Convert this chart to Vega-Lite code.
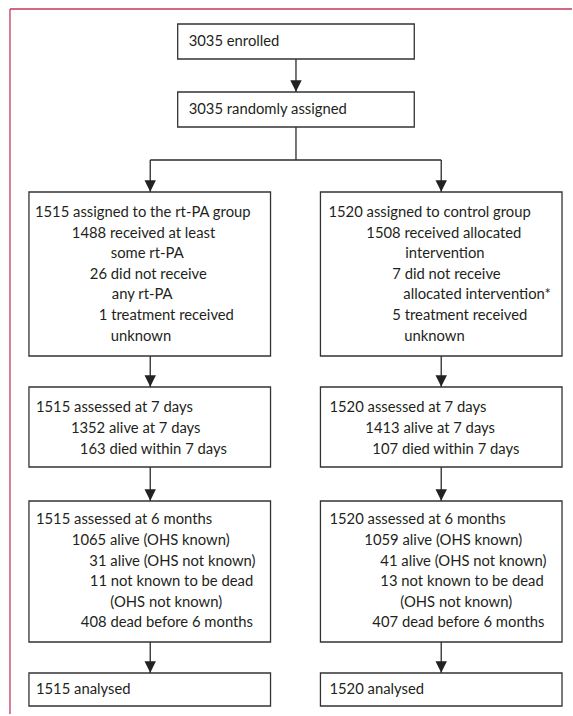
{
  "$schema": "https://vega.github.io/schema/vega-lite/v6.json",
  "width": 573,
  "height": 716,
  "autosize": {"type": "fit", "contains": "padding"},
  "padding": 0,
  "background": "white",
  "view": {"stroke": null},
  "datasets": {
    "frame": [
      {"x": 10, "y": 9, "x2": 573, "y2": 9},
      {"x": 10, "y": 9, "x2": 10, "y2": 714}
    ],
    "boxes": [
      {"id": "enrolled", "x": 178, "x2": 415, "y": 24, "y2": 59},
      {"id": "randomised", "x": 178, "x2": 415, "y": 92, "y2": 127},
      {"id": "alloc_rtpa", "x": 29, "x2": 271, "y": 192, "y2": 356},
      {"id": "alloc_ctrl", "x": 321, "x2": 563, "y": 192, "y2": 356},
      {"id": "d7_rtpa", "x": 29, "x2": 271, "y": 387, "y2": 467},
      {"id": "d7_ctrl", "x": 321, "x2": 563, "y": 387, "y2": 467},
      {"id": "m6_rtpa", "x": 29, "x2": 271, "y": 501, "y2": 642},
      {"id": "m6_ctrl", "x": 321, "x2": 563, "y": 501, "y2": 642},
      {"id": "an_rtpa", "x": 29, "x2": 271, "y": 673, "y2": 706},
      {"id": "an_ctrl", "x": 321, "x2": 563, "y": 673, "y2": 706}
    ],
    "links": [
      {"x": 296.5, "y": 59, "x2": 296.5, "y2": 92},
      {"x": 296.5, "y": 127, "x2": 296.5, "y2": 160},
      {"x": 150.5, "y": 160, "x2": 442, "y2": 160},
      {"x": 150.5, "y": 160, "x2": 150.5, "y2": 192},
      {"x": 442, "y": 160, "x2": 442, "y2": 192},
      {"x": 150.5, "y": 356, "x2": 150.5, "y2": 387},
      {"x": 442, "y": 356, "x2": 442, "y2": 387},
      {"x": 150.5, "y": 467, "x2": 150.5, "y2": 501},
      {"x": 442, "y": 467, "x2": 442, "y2": 501},
      {"x": 150.5, "y": 642, "x2": 150.5, "y2": 673},
      {"x": 442, "y": 642, "x2": 442, "y2": 673}
    ],
    "heads": [
      {"x": 296.5, "y": 92},
      {"x": 150.5, "y": 192},
      {"x": 442, "y": 192},
      {"x": 150.5, "y": 387},
      {"x": 442, "y": 387},
      {"x": 150.5, "y": 501},
      {"x": 442, "y": 501},
      {"x": 150.5, "y": 673},
      {"x": 442, "y": 673}
    ],
    "labels": [
      {"x": 189, "y": 42, "text": "3035 enrolled"},
      {"x": 189, "y": 110, "text": "3035 randomly assigned"},
      {"x": 35, "y": 213, "text": "1515 assigned to the rt-PA group"},
      {"x": 72, "y": 233.5, "text": "1488 received at least"},
      {"x": 111, "y": 254, "text": "some rt-PA"},
      {"x": 90, "y": 274.5, "text": "26 did not receive"},
      {"x": 112, "y": 295, "text": "any rt-PA"},
      {"x": 99, "y": 316, "text": "1 treatment received"},
      {"x": 111, "y": 337, "text": "unknown"},
      {"x": 329, "y": 213, "text": "1520 assigned to control group"},
      {"x": 367, "y": 233.5, "text": "1508 received allocated"},
      {"x": 406, "y": 254, "text": "intervention"},
      {"x": 393, "y": 274.5, "text": "7 did not receive"},
      {"x": 404, "y": 295, "text": "allocated intervention*"},
      {"x": 393, "y": 316, "text": "5 treatment received"},
      {"x": 405, "y": 337, "text": "unknown"},
      {"x": 36, "y": 408, "text": "1515 assessed at 7 days"},
      {"x": 71, "y": 429, "text": "1352 alive at 7 days"},
      {"x": 80, "y": 449.5, "text": "163 died within 7 days"},
      {"x": 330, "y": 408, "text": "1520 assessed at 7 days"},
      {"x": 366, "y": 429, "text": "1413 alive at 7 days"},
      {"x": 373, "y": 449.5, "text": "107 died within 7 days"},
      {"x": 36, "y": 520, "text": "1515 assessed at 6 months"},
      {"x": 72, "y": 541, "text": "1065 alive (OHS known)"},
      {"x": 89.5, "y": 561.5, "text": "31 alive (OHS not known)"},
      {"x": 90, "y": 582, "text": "11 not known to be dead"},
      {"x": 110.5, "y": 603, "text": "(OHS not known)"},
      {"x": 81, "y": 623, "text": "408 dead before 6 months"},
      {"x": 330, "y": 520, "text": "1520 assessed at 6 months"},
      {"x": 365, "y": 541, "text": "1059 alive (OHS known)"},
      {"x": 381, "y": 561.5, "text": "41 alive (OHS not known)"},
      {"x": 381, "y": 582, "text": "13 not known to be dead"},
      {"x": 401, "y": 603, "text": "(OHS not known)"},
      {"x": 373, "y": 623, "text": "407 dead before 6 months"},
      {"x": 36, "y": 690, "text": "1515 analysed"},
      {"x": 330, "y": 690, "text": "1520 analysed"}
    ]
  },
  "layer": [
    {
      "data": {"name": "frame"},
      "mark": {"type": "rule", "color": "#c4365a", "strokeWidth": 1.3},
      "encoding": {
        "x": {"field": "x", "type": "quantitative", "scale": {"domain": [0, 573], "nice": false, "zero": false}, "axis": null},
        "y": {"field": "y", "type": "quantitative", "scale": {"domain": [0, 716], "nice": false, "zero": false, "reverse": true}, "axis": null},
        "x2": {"field": "x2"},
        "y2": {"field": "y2"}
      }
    },
    {
      "data": {"name": "links"},
      "mark": {"type": "rule", "color": "#2b2b2b", "strokeWidth": 1.3},
      "encoding": {
        "x": {"field": "x", "type": "quantitative", "scale": {"domain": [0, 573], "nice": false, "zero": false}, "axis": null},
        "y": {"field": "y", "type": "quantitative", "scale": {"domain": [0, 716], "nice": false, "zero": false, "reverse": true}, "axis": null},
        "x2": {"field": "x2"},
        "y2": {"field": "y2"}
      }
    },
    {
      "data": {"name": "boxes"},
      "mark": {"type": "rect", "fill": "white", "stroke": "#333333", "strokeWidth": 1.3},
      "encoding": {
        "x": {"field": "x", "type": "quantitative", "scale": {"domain": [0, 573], "nice": false, "zero": false}, "axis": null},
        "y": {"field": "y", "type": "quantitative", "scale": {"domain": [0, 716], "nice": false, "zero": false, "reverse": true}, "axis": null},
        "x2": {"field": "x2"},
        "y2": {"field": "y2"}
      }
    },
    {
      "data": {"name": "heads"},
      "mark": {"type": "point", "shape": "M-1,-1L1,-1L0,1Z", "size": 130, "filled": true, "color": "#222222", "opacity": 1, "yOffset": -6},
      "encoding": {
        "x": {"field": "x", "type": "quantitative", "scale": {"domain": [0, 573], "nice": false, "zero": false}, "axis": null},
        "y": {"field": "y", "type": "quantitative", "scale": {"domain": [0, 716], "nice": false, "zero": false, "reverse": true}, "axis": null}
      }
    },
    {
      "data": {"name": "labels"},
      "mark": {"type": "text", "align": "left", "baseline": "middle", "font": "Lato", "fontSize": 14.8, "color": "#231f20"},
      "encoding": {
        "x": {"field": "x", "type": "quantitative", "scale": {"domain": [0, 573], "nice": false, "zero": false}, "axis": null},
        "y": {"field": "y", "type": "quantitative", "scale": {"domain": [0, 716], "nice": false, "zero": false, "reverse": true}, "axis": null},
        "text": {"field": "text"}
      }
    }
  ]
}
